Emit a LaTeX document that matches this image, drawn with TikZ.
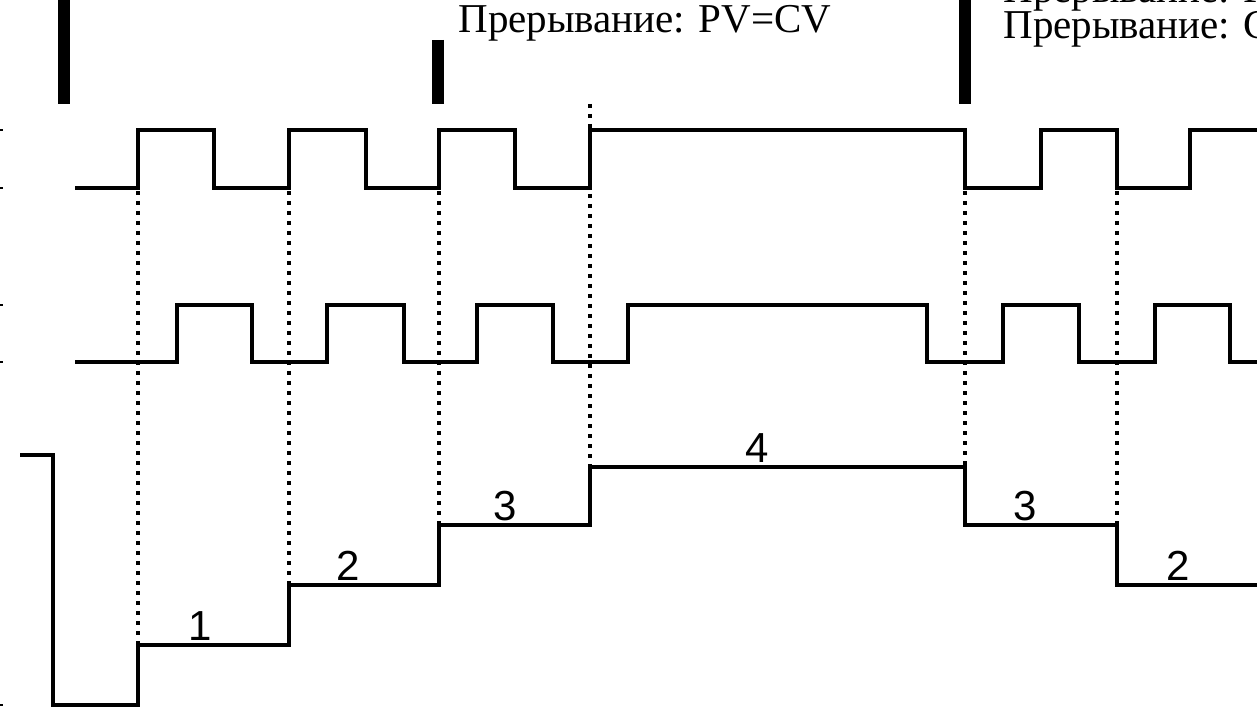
\documentclass[tikz,border=0pt]{standalone}
\usepackage{fontspec}
\newfontfamily\irqfont{Liberation Serif}
\newfontfamily\numfont{Liberation Sans}
\usepackage{tikz}
\usetikzlibrary{positioning}
\tikzset{
  wave/.style={line width=1.6pt, line join=miter},
  stair/.style={line width=2pt, line join=miter},
  guide/.style={line width=2pt, dash pattern=on 2pt off 3pt},
  intbar/.style={line width=6pt},
  tick/.style={line width=1pt},
  irqtext/.style={font=\irqfont\fontsize{20.5}{20.5}\selectfont, anchor=base west, inner sep=0pt},
  stepnum/.style={font=\numfont\fontsize{21}{21}\selectfont, anchor=base, inner sep=0pt},
}

\begin{document}
\begin{tikzpicture}[x=0.5pt, y=-0.5pt]
    \useasboundingbox (0,0) rectangle (1257,721);
    \clip (0,0) rectangle (1257,721);
    % interrupt markers
    \draw[intbar] (64,0)--(64,104);
    \draw[intbar] (438,40)--(438,104);
    \draw[intbar] (965,0)--(965,104);
    \node[irqtext] (irq1) at (458,33) {Прерывание: PV=CV};
    \node[irqtext] (irq2a) at (1003,3) {Прерывание: PV=CV};
    \node[irqtext] (irq2b) at (1003,39) {Прерывание: CV=0};
    % phase A
    \draw[wave] (75,188)--(138,188)--(138,130)--(214,130)--(214,188)--(289,188)--(289,130)--(366,130)
      --(366,188)--(439,188)--(439,130)--(515,130)--(515,188)--(590,188)--(590,130)--(965,130)
      --(965,188)--(1041,188)--(1041,130)--(1117,130)--(1117,188)--(1190,188)--(1190,130)--(1260,130);
    % phase B
    \draw[wave] (75,362)--(177,362)--(177,305)--(252,305)--(252,362)--(327,362)--(327,305)--(404,305)
      --(404,362)--(477,362)--(477,305)--(553,305)--(553,362)--(628,362)--(628,305)--(927,305)
      --(927,362)--(1003,362)--(1003,305)--(1079,305)--(1079,362)--(1155,362)--(1155,305)--(1230,305)
      --(1230,362)--(1260,362);
    % counter value
    \draw[stair] (20,455)--(53,455)--(53,705)--(138,705)--(138,645)--(289,645)--(289,585)--(439,585)
      --(439,525)--(590,525)--(590,467)--(965,467)--(965,525)--(1117,525)--(1117,585)--(1260,585);
    % guides
    \draw[guide] (138,191)--(138,645);
    \draw[guide] (289,191)--(289,585);
    \draw[guide] (439,191)--(439,525);
    \draw[guide] (590,104)--(590,467);
    \draw[guide] (965,191)--(965,467);
    \draw[guide] (1117,191)--(1117,525);
    % axis ticks
    \foreach \y in {130,188,305,362,705}
      \draw[tick] (0,\y)--(3,\y);
    \node[stepnum] (n1) at (200,640) {1};
    \node[stepnum] (n2) at (348,580) {2};
    \node[stepnum] (n3) at (505,520) {3};
    \node[stepnum] (n4) at (757,462) {4};
    \node[stepnum] (n5) at (1025,520) {3};
    \node[stepnum] (n6) at (1178,580) {2};
  \end{tikzpicture}
\end{document}
